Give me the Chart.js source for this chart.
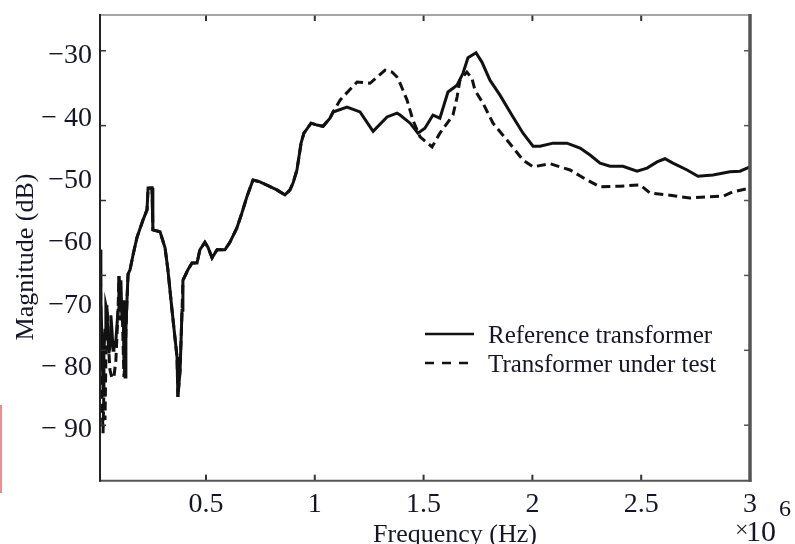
<!DOCTYPE html>
<html>
<head>
<meta charset="utf-8">
<script src="https://cdn.jsdelivr.net/npm/chart.js@4.4.1/dist/chart.umd.min.js"></script>
<style>
  body { margin: 0; background: #fff; }
  #wrap { position: relative; width: 795px; height: 544px; }
  #scanMark { position: absolute; left: 0; top: 405px; width: 2px; height: 88px; background: #f28b8b; }
</style>
</head>
<body>
<div id="wrap">
  <canvas id="fraChart" width="795" height="544"></canvas>
  <div id="scanMark"></div>
</div>
<script>
// axis ticks and labels
const X_TICKS = [0.5, 1, 1.5, 2, 2.5, 3];
const Y_TICKS = [-30, -40, -50, -60, -70, -80, -90];
const Y_TICK_LABELS = ["−30", "− 40", "−50", "−60", "−70", "− 80", "− 90"];
// the inward tick marks on the box sit on their own scale
const FRAME_TICKS = [-30, -40, -50, -60, -70, -80];

const X_TITLE = "Frequency (Hz)";
const Y_TITLE = "Magnitude (dB)";
const SERIES_NAMES = ["Reference transformer", "Transformer under test"];

// frequency in MHz (x 10^6 Hz), magnitude in dB
const refFreq = [0.015, 0.017, 0.022, 0.027, 0.031, 0.036, 0.040, 0.045, 0.050, 0.054, 0.059, 0.063, 0.068, 0.073, 0.077, 0.086, 0.096, 0.100,
  0.105, 0.109, 0.114, 0.119, 0.123, 0.128, 0.132, 0.137, 0.142, 0.151, 0.165, 0.183, 0.211, 0.229, 0.234, 0.252, 0.256, 0.289, 0.312, 0.325,
  0.344, 0.367, 0.371, 0.381, 0.390, 0.394, 0.417, 0.436, 0.459, 0.472, 0.495, 0.509, 0.528, 0.551, 0.587, 0.610, 0.642, 0.665, 0.688, 0.716,
  0.748, 0.826, 0.863, 0.886, 0.900, 0.918, 0.937, 0.950, 0.983, 1.010, 1.038, 1.070, 1.084, 1.148, 1.208, 1.268, 1.332, 1.378, 1.392, 1.438,
  1.474, 1.506, 1.543, 1.575, 1.612, 1.654, 1.681, 1.704, 1.741, 1.768, 1.805, 1.851, 1.911, 1.957, 2.003, 2.035, 2.095, 2.159, 2.219, 2.265,
  2.311, 2.357, 2.416, 2.481, 2.527, 2.573, 2.609, 2.646, 2.711, 2.761, 2.830, 2.908, 2.954, 3.000];
const refMag = [-61.1, -69.2, -75.6, -83.6, -77.2, -74.0, -70.0, -70.8, -75.6, -77.7, -76.4, -71.6, -74.0, -77.2, -76.4, -75.6, -70.8, -65.3,
  -69.2, -66.0, -72.4, -69.2, -78.8, -81.5, -74.0, -69.2, -65.0, -64.3, -61.9, -59.1, -56.3, -54.7, -51.2, -51.2, -57.9, -58.2, -60.8, -64.3,
  -70.8, -78.3, -84.7, -80.4, -70.8, -66.0, -64.3, -63.2, -63.2, -61.1, -59.9, -60.7, -62.4, -61.1, -61.1, -59.9, -57.6, -55.2, -52.6, -49.9,
  -50.2, -51.5, -52.3, -51.5, -50.4, -48.3, -44.0, -42.4, -40.8, -41.1, -41.3, -40.0, -39.0, -38.2, -39.0, -42.1, -39.8, -39.2, -39.5, -40.8,
  -42.4, -41.6, -39.5, -40.0, -35.8, -34.7, -32.8, -30.3, -29.5, -31.0, -33.9, -36.3, -39.8, -42.4, -44.5, -44.5, -44.0, -44.0, -44.8, -45.9,
  -47.2, -47.7, -47.7, -48.5, -48.0, -47.0, -46.5, -47.2, -48.3, -49.3, -49.1, -48.6, -48.5, -47.8];

const testFreq = [0.015, 0.017, 0.022, 0.027, 0.031, 0.036, 0.040, 0.045, 0.050, 0.054, 0.059, 0.068, 0.077, 0.086, 0.096, 0.100, 0.105, 0.114,
  0.123, 0.128, 0.137, 0.142, 0.151, 0.165, 0.183, 0.211, 0.229, 0.234, 0.252, 0.256, 0.289, 0.312, 0.325, 0.344, 0.367, 0.371, 0.381, 0.390,
  0.394, 0.417, 0.436, 0.459, 0.472, 0.495, 0.509, 0.528, 0.551, 0.587, 0.610, 0.642, 0.665, 0.688, 0.716, 0.748, 0.826, 0.863, 0.886, 0.900,
  0.918, 0.937, 0.950, 0.983, 1.010, 1.038, 1.070, 1.084, 1.116, 1.194, 1.254, 1.323, 1.355, 1.378, 1.392, 1.424, 1.451, 1.484, 1.539, 1.575,
  1.635, 1.654, 1.667, 1.699, 1.722, 1.736, 1.773, 1.819, 1.883, 1.957, 2.003, 2.081, 2.173, 2.251, 2.311, 2.403, 2.495, 2.540, 2.619, 2.724,
  2.802, 2.877, 2.922, 3.000];
const testMag = [-61.1, -74.0, -85.2, -90.5, -83.6, -88.4, -78.8, -70.0, -74.0, -77.7, -80.4, -81.7, -81.5, -78.8, -70.8, -65.3, -72.4, -69.2,
  -81.5, -78.8, -69.2, -65.0, -64.3, -61.9, -59.1, -56.3, -54.7, -51.2, -51.2, -57.9, -58.2, -60.8, -64.3, -70.8, -78.3, -84.7, -80.4, -70.8,
  -66.0, -64.3, -63.2, -63.2, -61.1, -59.9, -60.7, -62.4, -61.1, -61.1, -59.9, -57.6, -55.2, -52.6, -49.9, -50.2, -51.5, -52.3, -51.5, -50.4,
  -48.3, -44.0, -42.4, -40.8, -41.1, -41.3, -40.0, -39.0, -37.1, -34.2, -34.4, -32.3, -32.6, -33.4, -34.4, -37.1, -40.3, -43.0, -44.6, -42.4,
  -39.5, -36.6, -33.9, -32.6, -33.6, -35.5, -37.6, -40.8, -43.5, -46.7, -47.8, -47.3, -48.3, -49.9, -51.0, -50.9, -50.7, -52.0, -52.3, -52.8,
  -52.6, -52.5, -51.8, -51.2];

const INK = "#15152a";
const SERIF = '"Liberation Serif", "Times New Roman", serif';

function toPoints(xs, ys) {
  return xs.map((x, i) => ({ x: x, y: ys[i] }));
}

// no extra room for the first/last labels, the box is placed by layout padding
function noLabelPadding(s) {
  s.paddingTop = 0;
  s.paddingBottom = 0;
  s.paddingLeft = 0;
  s.paddingRight = 0;
}

// box, inward ticks, titles, x10^6 note and legend
const framePlugin = {
  id: "frame",
  afterDraw(chart) {
    const { ctx, chartArea: a, scales } = chart;
    ctx.save();

    const seg = (x1, y1, x2, y2, w, c) => {
      ctx.beginPath();
      ctx.lineWidth = w;
      ctx.strokeStyle = c;
      ctx.moveTo(x1, y1);
      ctx.lineTo(x2, y2);
      ctx.stroke();
    };

    // tick marks pointing inwards
    X_TICKS.slice(0, -1).forEach((v) => {
      const px = scales.x.getPixelForValue(v);
      seg(px, a.bottom, px, a.bottom - 6, 2, "#333");
      seg(px, a.top, px, a.top + 6, 2, "#333");
    });
    FRAME_TICKS.forEach((v) => {
      const py = scales.yFrame.getPixelForValue(v);
      seg(a.left, py, a.left + 6, py, 1.5, "#333");
      seg(a.right, py, a.right - 6, py, 1.5, "#555");
    });

    // box
    seg(a.left, a.top, a.right, a.top, 1.5, "#888");
    seg(a.left, a.bottom, a.right + 1.5, a.bottom, 2, "#555");
    seg(a.left, a.top - 1, a.left, a.bottom + 1, 2, "#222");
    seg(a.right, a.top - 1, a.right, a.bottom + 1, 3.5, "#555");

    ctx.fillStyle = INK;
    ctx.textBaseline = "alphabetic";

    // axis titles
    ctx.font = `26px ${SERIF}`;
    ctx.textAlign = "center";
    ctx.fillText(X_TITLE, 455, 542);
    ctx.save();
    ctx.translate(33, 257);
    ctx.rotate(-Math.PI / 2);
    ctx.fillText(Y_TITLE, 0, 0);
    ctx.restore();

    // x 10^6
    ctx.textAlign = "left";
    ctx.font = `24px ${SERIF}`;
    ctx.fillText("×", 735, 537);
    ctx.font = `30px ${SERIF}`;
    ctx.fillText("10", 746, 541);
    ctx.font = `24px ${SERIF}`;
    ctx.fillText("6", 779, 516);

    // legend
    ctx.font = `25px ${SERIF}`;
    chart.data.datasets.forEach((ds, i) => {
      const y = 334 + i * 29;
      ctx.save();
      ctx.setLineDash(i === 0 ? [] : [9, 8]);
      seg(425, y, 474, y, 2.5, ds.borderColor);
      ctx.restore();
      ctx.fillStyle = INK;
      ctx.fillText(ds.label, 488, y + 9);
    });

    ctx.restore();
  },
};

new Chart(document.getElementById("fraChart"), {
  type: "scatter",
  data: {
    datasets: [
      {
        label: SERIES_NAMES[0],
        data: toPoints(refFreq, refMag),
        showLine: true,
        borderColor: "#111",
        borderWidth: 3,
        pointRadius: 0,
        tension: 0,
      },
      {
        label: SERIES_NAMES[1],
        data: toPoints(testFreq, testMag),
        showLine: true,
        borderColor: "#111",
        borderWidth: 3,
        borderDash: [9, 5],
        pointRadius: 0,
        tension: 0,
      },
    ],
  },
  options: {
    responsive: false,
    animation: false,
    layout: { padding: { left: 0, right: 45, top: 15, bottom: 0 } },
    plugins: {
      legend: { display: false },
      tooltip: { enabled: false },
    },
    scales: {
      x: {
        type: "linear",
        min: 0.013,
        max: 3,
        afterBuildTicks: (s) => { s.ticks = X_TICKS.map((v) => ({ value: v })); },
        afterFit: (s) => { s.height = 63.3; noLabelPadding(s); },
        grid: { display: false, drawTicks: false },
        border: { display: false },
        ticks: {
          autoSkip: false,
          maxRotation: 0,
          padding: 7,
          color: INK,
          font: { family: SERIF, size: 28 },
          callback: (v) => String(v),
        },
      },
      y: {
        type: "linear",
        min: -98.13,
        max: -23.45,
        afterBuildTicks: (s) => { s.ticks = Y_TICKS.map((v) => ({ value: v })); },
        afterFit: (s) => { s.width = 100; noLabelPadding(s); },
        grid: { display: false, drawTicks: false },
        border: { display: false },
        ticks: {
          padding: 8,
          color: INK,
          font: { family: SERIF, size: 28 },
          callback: (v) => Y_TICK_LABELS[Y_TICKS.indexOf(v)],
        },
      },
      yFrame: {
        type: "linear",
        display: false,
        min: -87.41,
        max: -25.23,
      },
    },
  },
  plugins: [framePlugin],
});
</script>
</body>
</html>
